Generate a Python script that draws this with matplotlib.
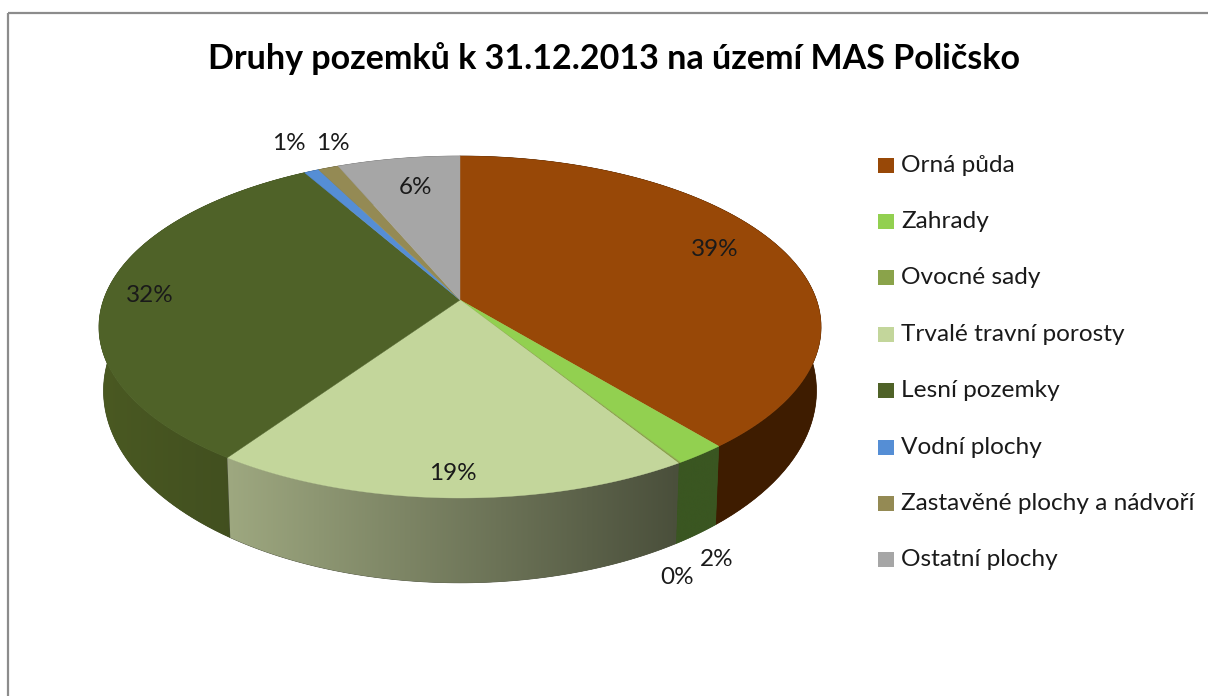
import numpy as np
import matplotlib
matplotlib.use("Agg")
import matplotlib.pyplot as plt
from matplotlib.colors import LinearSegmentedColormap
from matplotlib.patches import Polygon, Rectangle

plt.rcParams['font.family'] = ['Lato', 'DejaVu Sans']

title = "Druhy pozemků k 31.12.2013 na území MAS Poličsko"
categories = ["Orná půda", "Zahrady", "Ovocné sady", "Trvalé travní porosty",
              "Lesní pozemky", "Vodní plochy", "Zastavěné plochy a nádvoří",
              "Ostatní plochy"]
values = [39.0, 2.0, 0.1, 18.51, 32.14, 0.78, 1.07, 6.4]
colors = ["#984807", "#92d050", "#8aa34a", "#c3d69b",
          "#4f6228", "#558ed5", "#948a54", "#a6a6a6"]
# side wall colours, left end and right end of the gradient
side_left = ["#3f1e02", "#3a5621", "#3a5621", "#9ea880",
             "#4a5922", "#2f4f7a", "#5a5433", "#666666"]
side_right = ["#3e1c00", "#3a5621", "#3a5621", "#4a4f3b",
              "#3d4a1e", "#2f4f7a", "#5a5433", "#666666"]
label_pos = [(715, 249), (717, 560), (677, 577), (453, 474),
             (150, 296), (289, 143), (333, 143), (415, 187)]


def top_rim(t):
    # t is the angle clockwise from 12 o'clock, perspective view of the disc
    u, v = np.sin(t), np.cos(t)
    w = 1 + 0.158 * v
    return 460 + 356.5 * u / w, 300 - 166.7 * v / w


def bottom_rim(t):
    u, v = np.sin(t), np.cos(t)
    w = 1 + 0.158 * v
    return 460 + 352 * u / w, 360.5 - 187.2 * v / w


fig = plt.figure(figsize=(12.08, 6.96), dpi=100)
ax = fig.add_axes([0, 0, 1, 1])
ax.set_xlim(0, 1208)
ax.set_ylim(696, 0)
ax.axis('off')

ax.add_patch(Rectangle((8, 13), 1400, 800, fill=False, ec="#8c8c8c", lw=1.6))

edges = np.cumsum([0] + values) / sum(values) * 2 * np.pi

# side walls first, furthest slice first so the front ones end up on top
order = sorted(range(len(values)), key=lambda i: np.cos((edges[i] + edges[i + 1]) / 2), reverse=True)
for n, i in enumerate(order):
    t = np.linspace(edges[i], edges[i + 1], 80)
    x1, y1 = top_rim(t)
    x2, y2 = bottom_rim(t)
    pts = np.r_[np.c_[x1, y1], np.c_[x2, y2][::-1]]
    poly = Polygon(pts, closed=True, fc=side_right[i], ec=side_right[i], lw=0.5, zorder=1 + n * 0.01)
    ax.add_patch(poly)
    # gradient runs left to right over the width of the slice
    cmap = LinearSegmentedColormap.from_list("s", [side_left[i], side_right[i]])
    im = ax.imshow(np.linspace(0, 1, 256).reshape(1, -1), cmap=cmap, aspect='auto',
                   extent=[pts[:, 0].min(), pts[:, 0].max(), pts[:, 1].max(), pts[:, 1].min()],
                   zorder=1 + n * 0.01)
    im.set_clip_path(poly)

ax.set_xlim(0, 1208)
ax.set_ylim(696, 0)

# top faces
for i in range(len(values)):
    t = np.linspace(edges[i], edges[i + 1], 120)
    x, y = top_rim(t)
    pts = np.r_[[[460, 300]], np.c_[x, y]]
    ax.add_patch(Polygon(pts, closed=True, fc=colors[i], ec=colors[i], lw=0.3, zorder=3))

for val, (lx, ly) in zip(values, label_pos):
    ax.text(lx, ly, f"{val:.0f}%", fontsize=17.5, color="#1a1a1a",
            ha='center', va='center', zorder=5)

ax.text(614.5, 59, title, fontsize=24.5, fontweight='bold', color="black",
        ha='center', va='center')

# legend
for i, name in enumerate(categories):
    yc = 165 + i * 56.4
    ax.add_patch(Rectangle((878, yc - 7.5), 16, 15, fc=colors[i], ec="none"))
    ax.text(901, yc, name, fontsize=17.6, color="#1a1a1a", ha='left', va='center')

fig.savefig("out.png", dpi=100)
